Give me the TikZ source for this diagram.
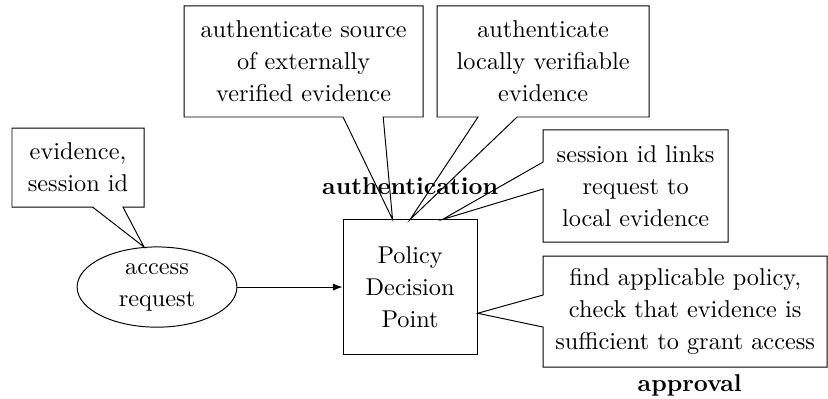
\documentclass[tikz,border=0pt]{standalone}
\usetikzlibrary{shapes.geometric,calc,arrows.meta}
\tikzset{
  note/.style={align=center, inner sep=0pt, outer sep=0pt, font=\fontsize{10}{13.2}\selectfont},
  pdpbox/.style={draw, align=center, inner sep=0pt, minimum width=1.94cm, minimum height=1.94cm, font=\fontsize{10}{13.2}\selectfont},
  reqnode/.style={draw, ellipse, align=center, inner sep=0pt, minimum width=2.31cm, minimum height=1.16cm, font=\fontsize{10}{13.2}\selectfont},
  phase/.style={font=\bfseries},
}
\begin{document}
\begin{tikzpicture}
    \useasboundingbox (0,0) rectangle (11.97,5.755);

    % Main nodes
    \node[reqnode] (req) at (2.27,1.605) {access\\request};
    \node[pdpbox] (pdp) at (5.929,1.605) {Policy\\Decision\\Point};
    \draw[-{Latex[length=4pt,width=3pt]}] (req.east) -- (pdp.west);

    % Callout texts
    \node[note, minimum width=1.909cm, minimum height=1.142cm] (ev) at (1.128,3.333) {evidence,\\session id};
    \node[note, minimum width=3.456cm, minimum height=1.605cm] (extauth) at (4.389,4.866) {authenticate source\\of externally\\verified evidence};
    \node[note, minimum width=3.066cm, minimum height=1.605cm] (locauth) at (7.852,4.866) {authenticate\\locally verifiable\\evidence};
    \node[note, minimum width=2.675cm, minimum height=1.620cm] (sess) at (9.189,3.066) {session id links\\request to\\local evidence};
    \node[note, minimum width=4.107cm, minimum height=1.605cm] (appr) at (9.905,1.251) {find applicable policy,\\check that evidence is\\sufficient to grant access};

    % Callout outlines with pointers
    \draw (ev.south west) -- ($(ev.south west)!0.61!(ev.south east)$) -- (req.108)
        -- ($(ev.south west)!0.84!(ev.south east)$) -- (ev.south east) -- (ev.north east) -- (ev.north west) -- cycle;
    \draw (extauth.south west) -- ($(extauth.south west)!0.665!(extauth.south east)$) -- ($(pdp.north west)!0.37!(pdp.north east)$)
        -- ($(extauth.south west)!0.833!(extauth.south east)$) -- (extauth.south east) -- (extauth.north east) -- (extauth.north west) -- cycle;
    \draw (locauth.south west) -- ($(locauth.south west)!0.193!(locauth.south east)$) -- (pdp.north)
        -- ($(locauth.south west)!0.377!(locauth.south east)$) -- (locauth.south east) -- (locauth.north east) -- (locauth.north west) -- cycle;
    \draw (sess.north west) -- ($(sess.north west)!0.286!(sess.south west)$) -- ($(pdp.north west)!0.739!(pdp.north east)$)
        -- ($(sess.north west)!0.527!(sess.south west)$) -- (sess.south west) -- (sess.south east) -- (sess.north east) -- cycle;
    \draw (appr.north west) -- ($(appr.north west)!0.351!(appr.south west)$) -- ($(pdp.north east)!0.694!(pdp.south east)$)
        -- ($(appr.north west)!0.640!(appr.south west)$) -- (appr.south west) -- (appr.south east) -- (appr.north east) -- cycle;

    % Labels
    \node[phase] (authlbl) at (5.929,3.057) {authentication};
    \node[phase] (apprlbl) at (9.970,0.188) {approval};
\end{tikzpicture}
\end{document}
